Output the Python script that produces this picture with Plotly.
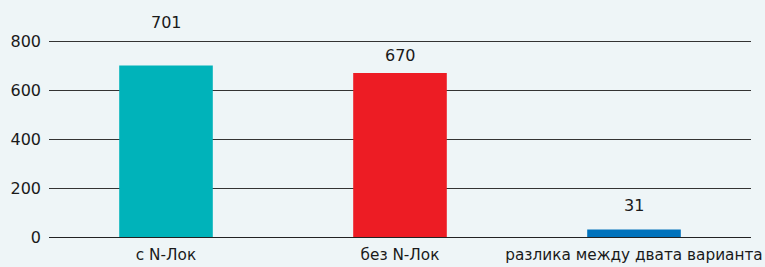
import plotly.graph_objects as go

categories = ["с N-Лок", "без N-Лок", "разлика между двата варианта"]
values = [701, 670, 31]
colors = ["#00B3BA", "#ED1C24", "#0072BC"]
label_shift = [43, 18, 24]
tick_vals = [0, 200, 400, 600, 800]

bg = "#EEF5F7"
font = "DejaVu Sans"

fig = go.Figure()
fig.add_trace(go.Bar(x=categories, y=values, marker=dict(color=colors, line=dict(width=0)),
                     hoverinfo="skip"))
for c, v, s in zip(categories, values, label_shift):
    fig.add_annotation(x=c, y=v, text=str(v), showarrow=False, yshift=s,
                       yanchor="middle", font=dict(size=16, color="#1a1a1a", family=font))

fig.update_layout(
    width=765, height=267, autosize=False,
    margin=dict(l=49, r=14, t=40, b=30, autoexpand=False),
    paper_bgcolor=bg, plot_bgcolor=bg,
    bargap=0.6, showlegend=False,
    font=dict(family=font, size=16, color="#1a1a1a"),
)
fig.update_xaxes(showgrid=False, showline=False, ticks="", tickfont=dict(size=15.3),
                 automargin=False, ticklabelstandoff=7)
fig.update_yaxes(range=[0, 805], tickvals=tick_vals, showgrid=True, gridcolor="#333333",
                 gridwidth=1, zeroline=True, zerolinecolor="#222222", zerolinewidth=1,
                 ticks="", ticklabelstandoff=7, tickfont=dict(size=16), automargin=False)
fig.write_html("out.html", config={"displayModeBar": False},
               post_script="document.body.style.margin='0';document.body.style.padding='0';")
